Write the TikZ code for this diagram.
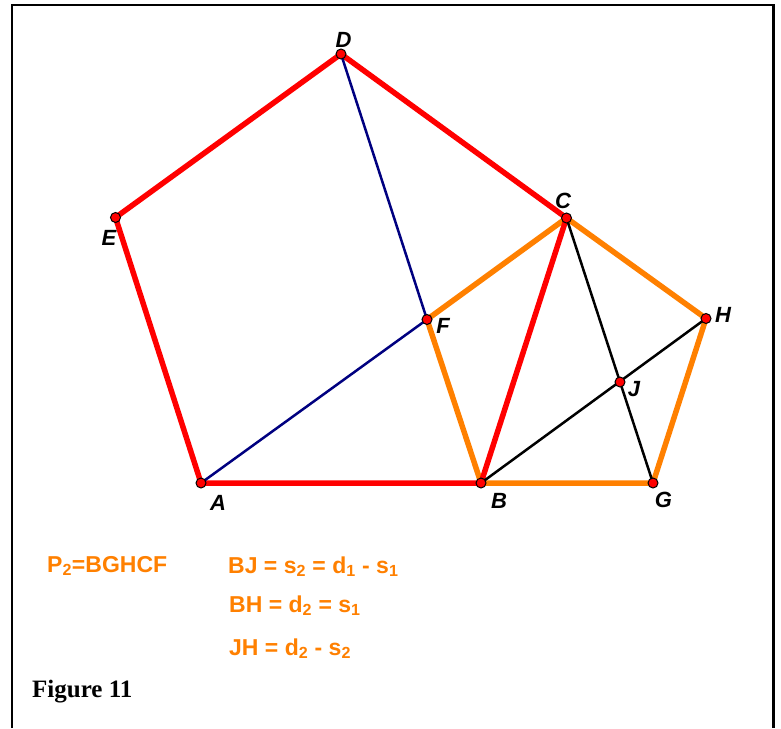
\documentclass[tikz,border=0pt]{standalone}
\usepackage{fontspec}
\setsansfont{Liberation Sans}
\newfontfamily\figfont{Liberation Serif}
\definecolor{orangeC}{RGB}{255,128,0}
\definecolor{navyC}{RGB}{0,0,128}
\begin{document}
\begin{tikzpicture}[x=1pt,y=-1pt,
  dot/.style={circle,draw=black,fill=red,inner sep=0pt,minimum size=10pt,line width=1pt},
  lbl/.style={font=\sffamily\bfseries\itshape\fontsize{22}{22}\selectfont,inner sep=0pt},
  eq/.style={font=\sffamily\bfseries\fontsize{23}{23}\selectfont,text=orangeC,anchor=base west,inner sep=0pt},
  redE/.style={draw=red,line width=5.5pt},
  orgE/.style={draw=orangeC,line width=5.5pt},
  navE/.style={draw=navyC,line width=2.5pt},
  blkE/.style={draw=black,line width=2.5pt},
  frame/.style={draw=black,line width=2.5pt}]
\useasboundingbox (0,0) rectangle (781,728);
\fill[white] (0,0) rectangle (781,728);
\draw[frame] (12,728) -- (12,5) -- (773.5,5) -- (773.5,728);
% points
\coordinate (A) at (201,483);
\coordinate (B) at (481,483);
\coordinate (C) at (566.5,218);
\coordinate (D) at (341,54);
\coordinate (E) at (115.5,217.5);
\coordinate (F) at (427,319.5);
\coordinate (G) at (653,483);
\coordinate (H) at (706,318.5);
\coordinate (J) at (620,382);
% orange pentagon
\draw[orgE] (B) -- (G) -- (H) -- (C) -- (F) -- cycle;
% red pentagon
\draw[redE,line join=round] (A) -- (B) -- (C) -- (D) -- (E) -- cycle;
% blue lines
\draw[navE] (D) -- (F) -- (A);
% black lines
\draw[blkE] (C) -- (G);
\draw[blkE] (B) -- (H);
% dots
\foreach \p in {A,B,C,D,E,F,G,H,J} \node[dot] (d\p) at (\p) {};
% labels
\node[lbl] (lA) at (218,503) {A};
\node[lbl] (lB) at (499,501) {B};
\node[lbl] (lC) at (563,200.5) {C};
\node[lbl] (lD) at (343.5,39.5) {D};
\node[lbl] (lE) at (109,237.5) {E};
\node[lbl] (lF) at (443,326) {F};
\node[lbl] (lG) at (663.5,499.5) {G};
\node[lbl] (lH) at (723,315) {H};
\node[lbl] (lJ) at (634,389.5) {J};
% texts
\node[eq] (t1) at (47,572) {P\textsubscript{2}=BGHCF};
\node[eq] (t2) at (228,573) {BJ = s\textsubscript{2} = d\textsubscript{1} - s\textsubscript{1}};
\node[eq] (t3) at (229,612) {BH = d\textsubscript{2} = s\textsubscript{1}};
\node[eq] (t4) at (229,655) {JH = d\textsubscript{2} - s\textsubscript{2}};
\node[anchor=base west,inner sep=0pt,font=\figfont\bfseries\fontsize{25}{25}\selectfont] (fig) at (32,697) {Figure 11};
\end{tikzpicture}
\end{document}
